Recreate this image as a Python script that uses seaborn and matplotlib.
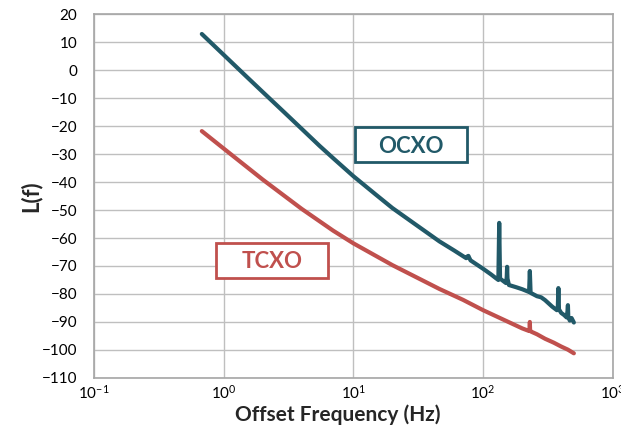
import numpy as np
import pandas as pd
import seaborn as sns
import matplotlib.pyplot as plt
from matplotlib.patches import Rectangle
from matplotlib.ticker import LogLocator, NullLocator

# ==========================
# Data
# ==========================
ocxo_freq = [0.68, 1, 1.5, 2, 3, 4, 5.5, 7, 10, 15, 20, 30, 46, 60, 74, 76, 77, 78, 80,
             100, 115, 125, 131, 133, 135, 145, 150, 152, 153, 154, 158, 180, 200,
             226, 229, 232, 260, 280, 300, 340, 370, 376, 380, 384, 400, 420, 440,
             447, 450, 453, 465, 480, 500]
ocxo_level = [12.9, 5.5, -2.3, -7.8, -15.5, -21.0, -27.1, -31.5, -37.9, -44.6, -49.3, -55.1,
              -61.2, -64.5, -67.2, -66.5, -66.4, -67.0, -68.0, -71.0, -73.0, -74.3, -75.0,
              -54.6, -74.5, -75.6, -76.1, -74.0, -70.3, -74.5, -76.8, -77.6, -78.3, -79.3,
              -71.8, -79.6, -80.8, -81.2, -82.2, -84.5, -85.8, -85.0, -77.9, -85.5, -86.8,
              -87.5, -88.4, -86.0, -84.0, -88.2, -89.5, -88.6, -90.2]

tcxo_freq = [0.68, 1, 2, 4, 7, 10, 20, 46, 70, 100, 150, 200, 225, 228, 229, 230, 233,
             260, 300, 350, 400, 450, 500]
tcxo_level = [-21.8, -28.0, -39.1, -49.6, -57.4, -61.9, -69.7, -78.2, -82.1, -85.8, -89.6,
              -92.3, -93.2, -93.0, -90.0, -93.0, -93.4, -94.4, -96.0, -97.4, -98.8, -99.9,
              -101.2]

y_ticks = list(range(-110, 21, 10))

ocxo_color = '#215968'
tcxo_color = '#C0504D'

df_ocxo = pd.DataFrame({'freq': ocxo_freq, 'level': ocxo_level})
df_tcxo = pd.DataFrame({'freq': tcxo_freq, 'level': tcxo_level})

# ==========================
# Plot
# ==========================
sns.set_style('white')
plt.rcParams['font.family'] = ['Lato', 'DejaVu Sans']
plt.rcParams['mathtext.default'] = 'regular'

fig = plt.figure(figsize=(6.21, 4.28), dpi=100)
ax = fig.add_axes([0.151, 0.117, 0.836, 0.850])

sns.lineplot(data=df_tcxo, x='freq', y='level', color=tcxo_color, lw=3, ax=ax,
             solid_capstyle='round', solid_joinstyle='round')
sns.lineplot(data=df_ocxo, x='freq', y='level', color=ocxo_color, lw=3, ax=ax,
             solid_capstyle='round', solid_joinstyle='round')

ax.set_xscale('log')
ax.set_xlim(0.1, 1000)
ax.set_ylim(-110, 20)
ax.set_yticks(y_ticks)
ax.xaxis.set_major_locator(LogLocator(base=10, numticks=10))
ax.xaxis.set_minor_locator(NullLocator())
ax.grid(True, color='#bfbfbf', lw=1)
ax.set_axisbelow(True)
for side in ax.spines:
    ax.spines[side].set_color('#a6a6a6')
    ax.spines[side].set_linewidth(1.2)
ax.tick_params(axis='both', length=0, labelsize=11, colors='black')
ax.tick_params(axis='y', pad=12)
ax.tick_params(axis='x', pad=4)

ax.set_xlabel('Offset Frequency (Hz)', fontsize=15, fontweight='bold')
ax.set_ylabel('L(f)', fontsize=16, fontweight='bold')
ax.xaxis.set_label_coords(0.47, -0.072)
ax.yaxis.set_label_coords(-0.10, 0.5)

# Label boxes
ax.add_patch(Rectangle((0.503, 0.593), 0.216, 0.096, transform=ax.transAxes,
                       facecolor='white', edgecolor=ocxo_color, lw=2, zorder=5))
ax.text(0.611, 0.637, 'OCXO', transform=ax.transAxes, ha='center', va='center',
        fontsize=16, fontweight='bold', color=ocxo_color, zorder=6)
ax.add_patch(Rectangle((0.235, 0.275), 0.216, 0.096, transform=ax.transAxes,
                       facecolor='white', edgecolor=tcxo_color, lw=2, zorder=5))
ax.text(0.343, 0.321, 'TCXO', transform=ax.transAxes, ha='center', va='center',
        fontsize=16, fontweight='bold', color=tcxo_color, zorder=6)

fig.savefig('out.png', dpi=100)
